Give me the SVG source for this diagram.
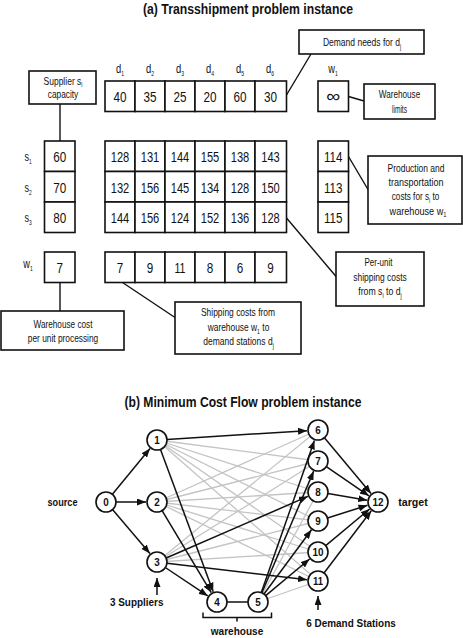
<svg xmlns="http://www.w3.org/2000/svg" width="463" height="638" viewBox="0 0 463 638">
<defs>
<style>
text{font-family:"Liberation Sans",Arial,sans-serif;fill:#111;text-anchor:middle;}
.title{font-size:14.5px;font-weight:bold;}
.num{font-size:15px;}
.lbl{font-size:12px;}
.box{font-size:10.5px;}
.sub{font-size:6.5px;}
.cell{fill:#fff;stroke:#111;stroke-width:1.6;}
.lead{stroke:#111;stroke-width:1.4;fill:none;}
.node circle{fill:#fff;stroke:#111;stroke-width:1.6;}
.node text{font-size:11.5px;font-weight:bold;}
.gl{font-size:11.5px;font-weight:bold;}
.edge{stroke:#111;stroke-width:1.5;fill:none;marker-end:url(#ah);}
.gray{stroke:#c4c4c4;stroke-width:1.3;fill:none;}
</style>
<marker id="ah" markerWidth="9" markerHeight="7" refX="9" refY="3.5" orient="auto" markerUnits="userSpaceOnUse">
<path d="M0,0 L9,3.5 L0,7 z" fill="#111"/>
</marker>
</defs>
<rect width="463" height="638" fill="#fff"/>

<!-- (a) -->
<text class="title" x="248" y="14" textLength="210" lengthAdjust="spacingAndGlyphs">(a) Transshipment problem instance</text>

<g id="leaders">
<line class="lead" x1="60" y1="104" x2="60" y2="141"/>
<line class="lead" x1="311" y1="54" x2="286.5" y2="95"/>
<line class="lead" x1="348.5" y1="96.5" x2="364" y2="101"/>
<line class="lead" x1="348.5" y1="156.5" x2="368" y2="189.5"/>
<line class="lead" x1="286.5" y1="218" x2="336.5" y2="277"/>
<line class="lead" x1="60" y1="282" x2="60" y2="311"/>
<line class="lead" x1="121" y1="281.5" x2="175" y2="317.5"/>
</g>

<g id="supplier-note">
<rect class="cell" x="29" y="71" width="67" height="33"/>
<text class="box" transform="translate(63,84.5) scale(0.81,1)">Supplier s<tspan class="sub" dy="2.5">i</tspan></text>
<text class="box" x="63" y="98" textLength="30.5" lengthAdjust="spacingAndGlyphs">capacity</text>
</g>

<g id="demand-note">
<rect class="cell" x="299" y="30" width="125" height="24"/>
<text class="box" transform="translate(362,46) scale(0.81,1)">Demand needs for d<tspan class="sub" dy="2.5">j</tspan></text>
</g>

<g id="warehouse-limits-note">
<rect class="cell" x="364" y="84" width="71" height="35"/>
<text class="box" x="399.5" y="98" textLength="41.5" lengthAdjust="spacingAndGlyphs">Warehouse</text>
<text class="box" x="399.5" y="112.5" textLength="15" lengthAdjust="spacingAndGlyphs">limits</text>
</g>

<g id="production-note">
<rect class="cell" x="368" y="156" width="94" height="68"/>
<text class="box" x="416" y="171.5" textLength="57" lengthAdjust="spacingAndGlyphs">Production and</text>
<text class="box" x="416" y="186" textLength="55" lengthAdjust="spacingAndGlyphs">transportation</text>
<text class="box" transform="translate(415.5,200) scale(0.78,1)">costs for s<tspan class="sub" dy="2.5">i</tspan><tspan dy="-2.5"> to</tspan></text>
<text class="box" transform="translate(418,214.5) scale(0.87,1)">warehouse w<tspan class="sub" dy="2.5">1</tspan></text>
</g>

<g id="perunit-note">
<rect class="cell" x="336" y="252" width="88" height="54"/>
<text class="box" x="378.5" y="266" textLength="28" lengthAdjust="spacingAndGlyphs">Per-unit</text>
<text class="box" x="380" y="281" textLength="53.5" lengthAdjust="spacingAndGlyphs">shipping costs</text>
<text class="box" transform="translate(380,295) scale(0.83,1)">from s<tspan class="sub" dy="2.5">i</tspan><tspan dy="-2.5"> to d</tspan><tspan class="sub" dy="2.5">j</tspan></text>
</g>

<g id="warehouse-cost-note">
<rect class="cell" x="1" y="311" width="123" height="39"/>
<text class="box" x="63" y="328" textLength="59" lengthAdjust="spacingAndGlyphs">Warehouse cost</text>
<text class="box" x="63" y="342" textLength="70.5" lengthAdjust="spacingAndGlyphs">per unit processing</text>
</g>

<g id="shipping-note">
<rect class="cell" x="175" y="302" width="126" height="52"/>
<text class="box" x="238" y="316" textLength="74" lengthAdjust="spacingAndGlyphs">Shipping costs from</text>
<text class="box" transform="translate(238.5,331) scale(0.8,1)">warehouse w<tspan class="sub" dy="2.5">1</tspan><tspan dy="-2.5"> to</tspan></text>
<text class="box" transform="translate(238.5,345) scale(0.81,1)">demand stations d<tspan class="sub" dy="2.5">j</tspan></text>
</g>

<g id="demand-row">
<text class="lbl" transform="translate(120,73) scale(0.78,1)">d<tspan class="sub" dy="3">1</tspan></text>
<text class="lbl" transform="translate(150,73) scale(0.78,1)">d<tspan class="sub" dy="3">2</tspan></text>
<text class="lbl" transform="translate(180,73) scale(0.78,1)">d<tspan class="sub" dy="3">3</tspan></text>
<text class="lbl" transform="translate(210,73) scale(0.78,1)">d<tspan class="sub" dy="3">4</tspan></text>
<text class="lbl" transform="translate(240,73) scale(0.78,1)">d<tspan class="sub" dy="3">5</tspan></text>
<text class="lbl" transform="translate(270,73) scale(0.78,1)">d<tspan class="sub" dy="3">6</tspan></text>
<rect class="cell" x="105" y="81" width="30" height="30.5"/>
<rect class="cell" x="135" y="81" width="30" height="30.5"/>
<rect class="cell" x="165" y="81" width="30" height="30.5"/>
<rect class="cell" x="195" y="81" width="30" height="30.5"/>
<rect class="cell" x="225" y="81" width="30" height="30.5"/>
<rect class="cell" x="255" y="81" width="31.5" height="30.5"/>
<text class="num" x="120" y="102" textLength="13" lengthAdjust="spacingAndGlyphs">40</text>
<text class="num" x="150" y="102" textLength="13" lengthAdjust="spacingAndGlyphs">35</text>
<text class="num" x="180" y="102" textLength="13" lengthAdjust="spacingAndGlyphs">25</text>
<text class="num" x="210" y="102" textLength="13" lengthAdjust="spacingAndGlyphs">20</text>
<text class="num" x="240" y="102" textLength="13" lengthAdjust="spacingAndGlyphs">60</text>
<text class="num" x="270.5" y="102" textLength="13" lengthAdjust="spacingAndGlyphs">30</text>
</g>

<g id="warehouse-limit">
<text class="lbl" transform="translate(333,73) scale(0.77,1)">w<tspan class="sub" dy="3">1</tspan></text>
<rect class="cell" x="318" y="81" width="30.5" height="30.5"/>
<text class="num" x="333.2" y="101.5" style="font-size:17px" textLength="14" lengthAdjust="spacingAndGlyphs">∞</text>
</g>

<g id="supply-column">
<text class="lbl" transform="translate(28,161) scale(0.75,1)">s<tspan class="sub" dy="3">1</tspan></text>
<text class="lbl" transform="translate(28,191.5) scale(0.75,1)">s<tspan class="sub" dy="3">2</tspan></text>
<text class="lbl" transform="translate(28,222) scale(0.75,1)">s<tspan class="sub" dy="3">3</tspan></text>
<rect class="cell" x="44.5" y="141" width="30.5" height="30.5"/>
<rect class="cell" x="44.5" y="171.5" width="30.5" height="30.5"/>
<rect class="cell" x="44.5" y="202" width="30.5" height="30.5"/>
<text class="num" x="59.7" y="162" textLength="13" lengthAdjust="spacingAndGlyphs">60</text>
<text class="num" x="59.7" y="192.5" textLength="13" lengthAdjust="spacingAndGlyphs">70</text>
<text class="num" x="59.7" y="223" textLength="13" lengthAdjust="spacingAndGlyphs">80</text>
</g>

<g id="cost-table">
<rect class="cell" x="105" y="141" width="30" height="30.5"/>
<rect class="cell" x="135" y="141" width="30" height="30.5"/>
<rect class="cell" x="165" y="141" width="30" height="30.5"/>
<rect class="cell" x="195" y="141" width="30" height="30.5"/>
<rect class="cell" x="225" y="141" width="30" height="30.5"/>
<rect class="cell" x="255" y="141" width="31.5" height="30.5"/>
<rect class="cell" x="105" y="171.5" width="30" height="30.5"/>
<rect class="cell" x="135" y="171.5" width="30" height="30.5"/>
<rect class="cell" x="165" y="171.5" width="30" height="30.5"/>
<rect class="cell" x="195" y="171.5" width="30" height="30.5"/>
<rect class="cell" x="225" y="171.5" width="30" height="30.5"/>
<rect class="cell" x="255" y="171.5" width="31.5" height="30.5"/>
<rect class="cell" x="105" y="202" width="30" height="30.5"/>
<rect class="cell" x="135" y="202" width="30" height="30.5"/>
<rect class="cell" x="165" y="202" width="30" height="30.5"/>
<rect class="cell" x="195" y="202" width="30" height="30.5"/>
<rect class="cell" x="225" y="202" width="30" height="30.5"/>
<rect class="cell" x="255" y="202" width="31.5" height="30.5"/>
<text class="num" x="120" y="162" textLength="18.5" lengthAdjust="spacingAndGlyphs">128</text>
<text class="num" x="150" y="162" textLength="18.5" lengthAdjust="spacingAndGlyphs">131</text>
<text class="num" x="180" y="162" textLength="18.5" lengthAdjust="spacingAndGlyphs">144</text>
<text class="num" x="210" y="162" textLength="18.5" lengthAdjust="spacingAndGlyphs">155</text>
<text class="num" x="240" y="162" textLength="18.5" lengthAdjust="spacingAndGlyphs">138</text>
<text class="num" x="270.5" y="162" textLength="18.5" lengthAdjust="spacingAndGlyphs">143</text>
<text class="num" x="120" y="192.5" textLength="18.5" lengthAdjust="spacingAndGlyphs">132</text>
<text class="num" x="150" y="192.5" textLength="18.5" lengthAdjust="spacingAndGlyphs">156</text>
<text class="num" x="180" y="192.5" textLength="18.5" lengthAdjust="spacingAndGlyphs">145</text>
<text class="num" x="210" y="192.5" textLength="18.5" lengthAdjust="spacingAndGlyphs">134</text>
<text class="num" x="240" y="192.5" textLength="18.5" lengthAdjust="spacingAndGlyphs">128</text>
<text class="num" x="270.5" y="192.5" textLength="18.5" lengthAdjust="spacingAndGlyphs">150</text>
<text class="num" x="120" y="223" textLength="18.5" lengthAdjust="spacingAndGlyphs">144</text>
<text class="num" x="150" y="223" textLength="18.5" lengthAdjust="spacingAndGlyphs">156</text>
<text class="num" x="180" y="223" textLength="18.5" lengthAdjust="spacingAndGlyphs">124</text>
<text class="num" x="210" y="223" textLength="18.5" lengthAdjust="spacingAndGlyphs">152</text>
<text class="num" x="240" y="223" textLength="18.5" lengthAdjust="spacingAndGlyphs">136</text>
<text class="num" x="270.5" y="223" textLength="18.5" lengthAdjust="spacingAndGlyphs">128</text>
</g>

<g id="warehouse-column">
<rect class="cell" x="318" y="141" width="30.5" height="30.5"/>
<rect class="cell" x="318" y="171.5" width="30.5" height="30.5"/>
<rect class="cell" x="318" y="202" width="30.5" height="30.5"/>
<text class="num" x="333.2" y="162" textLength="18.5" lengthAdjust="spacingAndGlyphs">114</text>
<text class="num" x="333.2" y="192.5" textLength="18.5" lengthAdjust="spacingAndGlyphs">113</text>
<text class="num" x="333.2" y="223" textLength="18.5" lengthAdjust="spacingAndGlyphs">115</text>
</g>

<g id="warehouse-row">
<text class="lbl" transform="translate(28,268) scale(0.77,1)">w<tspan class="sub" dy="3">1</tspan></text>
<rect class="cell" x="44.5" y="252" width="30.5" height="30.5"/>
<text class="num" x="59.7" y="272.5" textLength="6.5" lengthAdjust="spacingAndGlyphs">7</text>
<rect class="cell" x="105" y="252" width="30" height="30.5"/>
<rect class="cell" x="135" y="252" width="30" height="30.5"/>
<rect class="cell" x="165" y="252" width="30" height="30.5"/>
<rect class="cell" x="195" y="252" width="30" height="30.5"/>
<rect class="cell" x="225" y="252" width="30" height="30.5"/>
<rect class="cell" x="255" y="252" width="31.5" height="30.5"/>
<text class="num" x="120" y="272.5" textLength="6.5" lengthAdjust="spacingAndGlyphs">7</text>
<text class="num" x="150" y="272.5" textLength="6.5" lengthAdjust="spacingAndGlyphs">9</text>
<text class="num" x="180" y="272.5" textLength="11" lengthAdjust="spacingAndGlyphs">11</text>
<text class="num" x="210" y="272.5" textLength="6.5" lengthAdjust="spacingAndGlyphs">8</text>
<text class="num" x="240" y="272.5" textLength="6.5" lengthAdjust="spacingAndGlyphs">6</text>
<text class="num" x="270.5" y="272.5" textLength="6.5" lengthAdjust="spacingAndGlyphs">9</text>
</g>

<!-- (b) -->
<text class="title" x="243" y="407" textLength="237" lengthAdjust="spacingAndGlyphs">(b) Minimum Cost Flow problem instance</text>

<g id="connectors">
<g id="gray-edges">
<line class="gray" x1="157" y1="440" x2="318" y2="461"/>
<line class="gray" x1="157" y1="440" x2="318" y2="492"/>
<line class="gray" x1="157" y1="440" x2="318" y2="521"/>
<line class="gray" x1="157" y1="440" x2="318" y2="552"/>
<line class="gray" x1="157" y1="440" x2="318" y2="581"/>
<line class="gray" x1="157" y1="502" x2="318" y2="430"/>
<line class="gray" x1="157" y1="502" x2="318" y2="461"/>
<line class="gray" x1="157" y1="502" x2="318" y2="492"/>
<line class="gray" x1="157" y1="502" x2="318" y2="521"/>
<line class="gray" x1="157" y1="502" x2="318" y2="552"/>
<line class="gray" x1="157" y1="502" x2="318" y2="581"/>
<line class="gray" x1="157" y1="562" x2="318" y2="430"/>
<line class="gray" x1="157" y1="562" x2="318" y2="461"/>
<line class="gray" x1="157" y1="562" x2="318" y2="521"/>
<line class="gray" x1="157" y1="562" x2="318" y2="552"/>
<line class="gray" x1="258" y1="602" x2="318" y2="492"/>
<line class="gray" x1="258" y1="602" x2="318" y2="581"/>
</g>
<g id="black-edges">
<line class="edge" x1="112.4" y1="494.3" x2="150" y2="448.5"/>
<line class="edge" x1="116" y1="502" x2="146" y2="502"/>
<line class="edge" x1="112.5" y1="509.6" x2="149.9" y2="553.6"/>
<line class="edge" x1="167" y1="439.4" x2="307" y2="430.7"/>
<line class="edge" x1="160.5" y1="449.4" x2="213.2" y2="591.7"/>
<line class="edge" x1="162.1" y1="510.6" x2="211.3" y2="592.6"/>
<line class="edge" x1="165.3" y1="567.5" x2="207.8" y2="595.9"/>
<line class="edge" x1="166.2" y1="558" x2="307.9" y2="496.4"/>
<line class="edge" x1="166.9" y1="563.2" x2="307.1" y2="579.7"/>
<line class="edge" x1="261.3" y1="592.6" x2="314.4" y2="440.4"/>
<line class="edge" x1="261.9" y1="592.8" x2="313.7" y2="471.1"/>
<line class="edge" x1="264" y1="594" x2="311.5" y2="529.8"/>
<line class="edge" x1="265.7" y1="595.6" x2="309.6" y2="559"/>
<line class="edge" x1="324.4" y1="437.7" x2="371" y2="493.6"/>
<line class="edge" x1="326.3" y1="466.6" x2="368.9" y2="495.8"/>
<line class="edge" x1="327.9" y1="493.6" x2="367.2" y2="500.2"/>
<line class="edge" x1="327.5" y1="518" x2="367.5" y2="505.3"/>
<line class="edge" x1="325.7" y1="545.6" x2="369.6" y2="509"/>
<line class="edge" x1="324" y1="573" x2="371.3" y2="510.8"/>
<line x1="227" y1="602" x2="248" y2="602" stroke="#111" stroke-width="1.5"/>
</g>
<g id="annotations">
<line class="edge" x1="157" y1="595" x2="157" y2="578"/>
<line class="edge" x1="318" y1="610" x2="318" y2="596"/>
<path d="M203,612.5 V617.5 H271.5 V612.5 M237,617.5 V621.5" stroke="#111" stroke-width="1.5" fill="none"/>
</g>
</g>

<g id="n0" class="node"><circle cx="106" cy="502" r="10"/><text x="106" y="506.2" textLength="5.5" lengthAdjust="spacingAndGlyphs">0</text></g>
<g id="n1" class="node"><circle cx="157" cy="440" r="10"/><text x="157" y="444.2" textLength="5.5" lengthAdjust="spacingAndGlyphs">1</text></g>
<g id="n2" class="node"><circle cx="157" cy="502" r="10"/><text x="157" y="506.2" textLength="5.5" lengthAdjust="spacingAndGlyphs">2</text></g>
<g id="n3" class="node"><circle cx="157" cy="562" r="10"/><text x="157" y="566.2" textLength="5.5" lengthAdjust="spacingAndGlyphs">3</text></g>
<g id="n4" class="node"><circle cx="217" cy="602" r="10"/><text x="217" y="606.2" textLength="5.5" lengthAdjust="spacingAndGlyphs">4</text></g>
<g id="n5" class="node"><circle cx="258" cy="602" r="10"/><text x="258" y="606.2" textLength="5.5" lengthAdjust="spacingAndGlyphs">5</text></g>
<g id="n6" class="node"><circle cx="318" cy="430" r="10"/><text x="318" y="434.2" textLength="5.5" lengthAdjust="spacingAndGlyphs">6</text></g>
<g id="n7" class="node"><circle cx="318" cy="461" r="10"/><text x="318" y="465.2" textLength="5.5" lengthAdjust="spacingAndGlyphs">7</text></g>
<g id="n8" class="node"><circle cx="318" cy="492" r="10"/><text x="318" y="496.2" textLength="5.5" lengthAdjust="spacingAndGlyphs">8</text></g>
<g id="n9" class="node"><circle cx="318" cy="521" r="10"/><text x="318" y="525.2" textLength="5.5" lengthAdjust="spacingAndGlyphs">9</text></g>
<g id="n10" class="node"><circle cx="318" cy="552" r="10"/><text x="318" y="556.2" textLength="11" lengthAdjust="spacingAndGlyphs">10</text></g>
<g id="n11" class="node"><circle cx="318" cy="581" r="10"/><text x="318" y="585.2" textLength="10" lengthAdjust="spacingAndGlyphs">11</text></g>
<g id="n12" class="node"><circle cx="378" cy="502" r="10"/><text x="378" y="506.2" textLength="11" lengthAdjust="spacingAndGlyphs">12</text></g>

<g id="labels">
<text class="gl" x="62.5" y="506" textLength="30" lengthAdjust="spacingAndGlyphs">source</text>
<text class="gl" x="413" y="506" textLength="29.5" lengthAdjust="spacingAndGlyphs">target</text>
<text class="gl" x="136.7" y="606" textLength="53.5" lengthAdjust="spacingAndGlyphs">3 Suppliers</text>
<text class="gl" x="351" y="627" textLength="89.5" lengthAdjust="spacingAndGlyphs">6 Demand Stations</text>
<text class="gl" x="237" y="634.5" textLength="52.5" lengthAdjust="spacingAndGlyphs">warehouse</text>
</g>
</svg>
